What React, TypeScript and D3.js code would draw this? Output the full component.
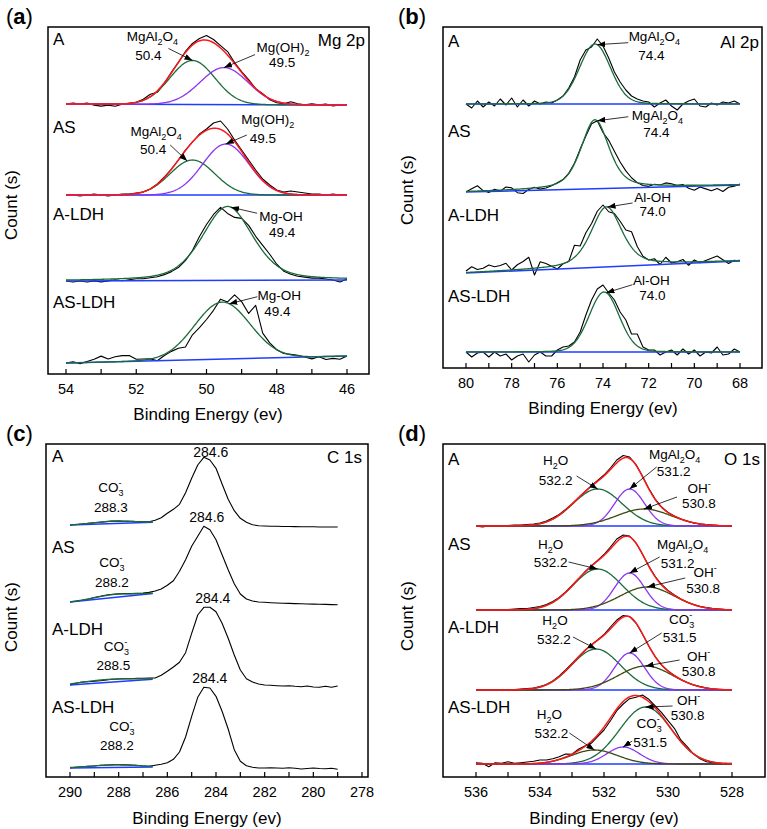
import React from 'react';
import * as d3 from 'd3';

// ---------- (a) Mg 2p ----------
const mgEnergy = d3.range(54, 45.95, -0.2);
const mgTicks = [54, 52, 50, 48, 46];
// raw counts above the linear background, one value per 0.2 eV
const mgRawA = [0, 1, 0, 1, -1, -2, -1, -2, 0, 1, 2, 5, 10, 12, 21, 32, 42, 53, 61, 66, 69, 65, 59, 53, 42, 33, 25, 16, 11, 5, 2, 1, 3, 1, 0, 1, 0, 1, -1, 0, 0];
const mgRawAS = [0, 0, -1, 0, 1, 0, -1, 0, 1, 1, 2, 3, 6, 11, 18, 26, 35, 45, 53, 61, 66, 72, 74, 66, 55, 45, 35, 25, 16, 10, 5, 3, 4, 3, 2, 1, 1, 0, 1, 0, 0];
const mgRawALDH = [0, -1, 0, -1, 0, -1, 0, 1, 0, 1, 2, 2, 3, 4, 6, 9, 13, 20, 30, 44, 56, 66, 73, 67, 63, 62, 55, 44, 35, 26, 16, 9, 6, 4, 3, 2, 2, 1, 0, -2, 1];
const mgRawASLDH = [0, 1, -1, 1, 3, 6, 3, 5, 6, 6, 2, 2, 2, 0, 5, 9, 12, 13, 25, 32, 40, 49, 60, 57, 64, 57, 45, 53, 25, 15, 8, 4, 3, 2, 0, -2, 0, -3, -2, -3, 0];
const mgOffsets = [270, 179, 93, 11];
const mgBackground = [[0, -1], [0, 0], [0, 1], [0, 7]];
// fitted components: [centre (eV), height, FWHM (eV), lorentzian fraction]
const mgFitA = [[50.4, 44, 1.5, 0], [49.5, 37, 1.6, 0]];
const mgFitAS = [[50.4, 35, 1.5, 0], [49.45, 51, 1.55, 0]];
const mgFitALDH = [[49.4, 74, 1.7, 0.4]];
const mgFitASLDH = [[49.55, 57, 1.85, 0]];

// ---------- (b) Al 2p ----------
const alEnergy = d3.range(80, 67.9, -0.25);
const alTicks = [80, 78, 76, 74, 72, 70, 68];
const alRawA = [0, -4, 3, -3, 2, -2, 5, -1, 6, -3, 4, -2, 3, 0, 2, 1, 4, 8, 16, 27, 44, 54, 57, 65, 58, 46, 32, 22, 14, 8, 5, 3, 2, -3, 1, 4, -2, -6, 0, 3, 5, -2, -3, 1, -1, 2, 1, 3, 0];
const alRawAS = [0, 3, 6, 1, -1, 2, 0, 4, 3, -2, -3, 1, 3, 1, 2, 4, 7, 10, 16, 26, 40, 53, 65, 68, 56, 48, 37, 26, 17, 10, 5, 2, 1, 3, 2, 4, 3, 1, 2, -2, -4, -1, -3, -5, -3, -6, -2, -1, 1];
const alRawALDH = [2, 6, 3, 4, 7, 5, 6, 8, 1, 6, 9, 13, -5, 8, 6, 3, 0, 5, 7, 23, 22, 35, 44, 56, 62, 55, 53, 45, 36, 34, 19, 9, 5, 6, 0, 7, 1, 2, 4, -2, 3, 0, 2, 4, 6, 2, -2, 1, 0];
const alRawASLDH = [0, -5, -1, 0, -5, 0, -4, -2, -8, -4, -2, -10, -3, 0, -4, -4, 2, 5, 6, 10, 20, 37, 52, 63, 67, 59, 52, 40, 32, 18, 18, 5, 2, 2, -3, 0, 2, -3, 3, -2, 2, -4, 0, -1, 5, -3, -2, 3, 0];
const alOffsets = [264, 176, 95, 16];
const alBackground = [[0, 0], [0, 7], [0, 12], [0, 0]];
const alFitA = [[74.35, 60, 1.6, 0.1]];
const alFitAS = [[74.35, 69, 1.45, 0.5]];
const alFitALDH = [[73.85, 60, 1.6, 0.5]];
const alFitASLDH = [[73.95, 60, 1.55, 0.1]];

// ---------- (c) C 1s ----------
const cEnergy = d3.range(290, 278.9, -0.25);
const cTicks = [290, 288, 286, 284, 282, 280, 278];
// raw counts above the stacking offset (not background corrected)
const cRawA = [0, 0.5, 1, 1.6, 2.2, 2.8, 3.4, 3.9, 4, 3.8, 3.6, 3.4, 3.2, 3.3, 4.7, 7.3, 11.7, 15.7, 20.7, 32.3, 46.7, 60, 67.7, 65, 56.7, 41, 25.7, 14.3, 6.7, 2.7, 0.3, -0.7, -1, -1.2, -1.3, -1.5, -1.5, -1.6, -1.7, -1.8, -1.8, -2, -2, -2, -2];
const cRawAS = [0, 0.7, 1.7, 3, 4.5, 5.7, 7, 7.8, 8.3, 8.4, 8.4, 8.6, 8.9, 9.6, 11, 13, 16.7, 21.3, 30.7, 42.3, 55.7, 65.7, 75.7, 72.3, 62.3, 47.3, 32.3, 18.3, 8, 3, 1, 0, -0.3, -0.7, -1, -1.2, -1.4, -1.6, -1.8, -2, -2.1, -2.3, -2.4, -2.6, -2.7];
const cRawALDH = [0, 1.7, 3, 3.3, 3.7, 4.3, 5, 5.7, 6, 6.3, 6.3, 6.7, 6.7, 7, 7, 9.7, 13.7, 18, 22.7, 32.3, 51.7, 70, 77.7, 77.7, 73.3, 61.7, 46.7, 30, 15, 6.3, 3, 1, 0, -0.3, -0.7, -1, -0.7, -1.3, -1.7, -1, -2, -2.3, -1.3, -2.3, -1];
const cRawASLDH = [0, 0.7, 1.3, 1.7, 2, 2.7, 3, 3.3, 3.3, 3.3, 3, 2.7, 2, 1.7, 2.7, 3.7, 5.3, 8.7, 16, 31, 51.7, 70.7, 80.7, 80, 71.7, 56.7, 39, 18.3, 6.7, 2.3, 0.7, 0, 0, 0.3, 0, -0.3, 0.3, -0.3, -1, -0.5, 0, -0.5, -0.7, -0.3, -1.3];
const cOffsets = [252, 175, 92, 9];
const cFitWindow = [290, 286.6];
const cBackground = [[0, 2.7], [0, 8.5], [0, 5.7], [0, 1]];
const cFitA = [[288.2, 2.5, 1.8, 0]];
const cFitAS = [[288.2, 3, 1.8, 0]];
const cFitALDH = [[288.5, 3, 2.5, 0]];
const cFitASLDH = [[288.2, 2.5, 2.4, 0]];
const cMainPeak = ['284.6', '284.6', '284.4', '284.4'];

// ---------- (d) O 1s ----------
const oEnergy = d3.range(536, 527.95, -0.2);
const oTicks = [536, 534, 532, 530, 528];
const oRawA = [0, -1, 0, 0.5, 0, 0.5, 1, 1, 1.5, 2, 3, 5, 8, 11.5, 16.5, 22, 28, 34, 40, 45.5, 51, 58, 66, 70.5, 69, 61.5, 50, 37.5, 27, 19, 13.5, 10, 7, 5, 3, 2, 1.5, 1, 0.5, 0.5, 0];
const oRawAS = [0, 0, 0.5, 0, 0.5, 0.5, 1, 1.5, 1.5, 2.5, 3.5, 5.5, 8.5, 12.5, 18, 24.5, 31, 38, 44, 49.5, 55.5, 63, 71, 75, 74, 67, 56, 44, 33.5, 25.5, 19.5, 15, 11, 8, 5.5, 3.5, 2.5, 1.5, 1, 0.5, 0];
const oRawALDH = [0, 0, 0, 0.5, 0, 0.5, 0.5, 1, 1.5, 2, 3.5, 5.5, 9, 14, 20, 26.5, 33, 39.5, 45, 50, 55.5, 63, 70, 74.5, 73.5, 67, 56, 44, 33.5, 25, 19, 14.5, 10.5, 7.5, 5, 3.5, 2, 1, 0.5, 0.5, 0];
const oRawASLDH = [1.3, 0.7, -2.7, 1.3, 0.7, 2.3, 0.7, 1.3, 2, 2.7, 4, 4, 5.3, 7.3, 10, 9.7, 14.7, 18, 20.7, 27.3, 34, 43.3, 53.3, 60, 65.3, 66.7, 69, 64.7, 58, 51.3, 43.3, 35.7, 24, 17.3, 10, 5.3, 2.3, 1.3, 0, 0.7, 0.7];
const oOffsets = [251, 167, 87, 13];
const oBackground = [[0, 0], [0, 0], [0, 0], [0, 0]];
const oFitA = [[532.2, 37, 1.8, 0], [531.2, 37, 1.1, 0], [530.75, 17, 2.0, 0]];
const oFitAS = [[532.2, 41, 1.8, 0], [531.2, 37, 1.1, 0], [530.65, 23, 2.0, 0]];
const oFitALDH = [[532.25, 41, 1.8, 0], [531.2, 37, 1.1, 0], [530.7, 24, 2.0, 0]];
const oFitASLDH = [[530.7, 57, 1.9, 0], [531.4, 17, 1.2, 0], [532.3, 14, 1.7, 0]];

const sampleNames = ['A', 'AS', 'A-LDH', 'AS-LDH'];

const GREEN = '#1c6b3b';
const PURPLE = '#8c34f2';
const OLIVE = '#3c4a12';
const BLUE = '#1f3dff';
const RED = '#ff1616';
const FONT = '"Liberation Sans", Arial, Helvetica, sans-serif';

type Note = {
  s: number; k: number; at?: number;
  tail: number[] | null; name: string; nameAt: number[]; value: string; valueAt: number[];
};

type Panel = {
  letter: string; element: string;
  frame: { x0: number; x1: number; y0: number; y1: number };
  range: number[]; energy: number[]; ticks: number[];
  raws: number[][]; offsets: number[]; bgs: number[][]; fits: number[][][]; colors: string[][];
  window?: number[]; rawAbsolute?: boolean;
  lifts: number[]; nameX: number; elementX: number; elementY: number;
  titleX: number; titleY: number; countX: number; countY: number; letterX: number; letterY: number;
  notes: Note[]; tags?: { text: string; dx: number; dy: number }[];
};

const pv = (f: number[], e: number) => {
  const t = (e - f[0]) / f[2];
  const eta = f[3];
  return f[1] * ((1 - eta) * Math.exp(-4 * Math.LN2 * t * t) + eta / (1 + 4 * t * t));
};

// chemical label with _sub and ^sup (a sup right after a sub is stacked over it)
function chem(s: string) {
  const out: React.ReactNode[] = [];
  let level = 0;
  let prevSub = false;
  let i = 0;
  let key = 0;
  while (i < s.length) {
    const c = s[i];
    if (c === '_' || c === '^') {
      const target = c === '_' ? 4 : -6;
      const dx = c === '^' && prevSub ? -5 : 0;
      out.push(<tspan key={key++} dx={dx} dy={target - level} fontSize={9}>{s[i + 1]}</tspan>);
      level = target;
      prevSub = c === '_';
      i += 2;
    } else {
      let j = i;
      while (j < s.length && s[j] !== '_' && s[j] !== '^') j++;
      out.push(<tspan key={key++} dy={-level}>{s.slice(i, j)}</tspan>);
      level = 0;
      prevSub = false;
      i = j;
    }
  }
  return out;
}

const panels: Panel[] = [
  {
    letter: 'a', element: 'Mg 2p',
    frame: { x0: 48, x1: 369, y0: 27, y1: 374 },
    range: [66, 347], energy: mgEnergy, ticks: mgTicks,
    raws: [mgRawA, mgRawAS, mgRawALDH, mgRawASLDH], offsets: mgOffsets, bgs: mgBackground,
    fits: [mgFitA, mgFitAS, mgFitALDH, mgFitASLDH],
    colors: [[GREEN, PURPLE], [GREEN, PURPLE], [GREEN], [GREEN]],
    lifts: [59, 62, 61, 55], nameX: 53, elementX: 365, elementY: 46,
    titleX: 208, titleY: 420, countX: 17, countY: 205, letterX: 6, letterY: 24,
    notes: [
      { s: 0, k: 0, tail: [-24, -12], name: 'MgAl_2O_4', nameAt: [-40, -19], value: '50.4', valueAt: [-44, 0] },
      { s: 0, k: 1, tail: [31, -13], name: 'Mg(OH)_2', nameAt: [59, -16], value: '49.5', valueAt: [58, -1] },
      { s: 1, k: 0, at: 50.55, tail: [-17, -16], name: 'MgAl_2O_4', nameAt: [-31, -25], value: '50.4', valueAt: [-34, -7] },
      { s: 1, k: 1, tail: [21, -9], name: 'Mg(OH)_2', nameAt: [42, -20], value: '49.5', valueAt: [37, -1] },
      { s: 2, k: 0, at: 49.3, tail: [26, 6], name: 'Mg-OH', nameAt: [50, 14], value: '49.4', valueAt: [51, 30] },
      { s: 3, k: 0, at: 49.35, tail: [28, -7], name: 'Mg-OH', nameAt: [50, -4], value: '49.4', valueAt: [48, 12] },
    ],
  },
  {
    letter: 'b', element: 'Al 2p',
    frame: { x0: 443, x1: 762, y0: 27, y1: 368 },
    range: [466, 740], energy: alEnergy, ticks: alTicks,
    raws: [alRawA, alRawAS, alRawALDH, alRawASLDH], offsets: alOffsets, bgs: alBackground,
    fits: [alFitA, alFitAS, alFitALDH, alFitASLDH],
    colors: [[GREEN], [GREEN], [GREEN], [GREEN]],
    lifts: [57, 55, 52, 50], nameX: 448, elementX: 759, elementY: 48,
    titleX: 603, titleY: 414, countX: 413, countY: 190, letterX: 398, letterY: 24,
    notes: [
      { s: 0, k: 0, at: 74.25, tail: [31, -2], name: 'MgAl_2O_4', nameAt: [57, -4], value: '74.4', valueAt: [54, 15] },
      { s: 1, k: 0, at: 74.25, tail: [31, -4], name: 'MgAl_2O_4', nameAt: [60, -1], value: '74.4', valueAt: [59, 16] },
      { s: 2, k: 0, at: 73.8, tail: [25, -4], name: 'Al-OH', nameAt: [45, -5], value: '74.0', valueAt: [45, 9] },
      { s: 3, k: 0, at: 73.85, tail: [26, -8], name: 'Al-OH', nameAt: [45, -8], value: '74.0', valueAt: [46, 7] },
    ],
  },
  {
    letter: 'c', element: 'C 1s',
    frame: { x0: 46, x1: 368, y0: 444, y1: 777 },
    range: [70, 362], energy: cEnergy, ticks: cTicks,
    raws: [cRawA, cRawAS, cRawALDH, cRawASLDH], offsets: cOffsets, bgs: cBackground,
    fits: [cFitA, cFitAS, cFitALDH, cFitASLDH],
    colors: [[GREEN], [GREEN], [GREEN], [GREEN]],
    window: cFitWindow, rawAbsolute: true,
    lifts: [63, 49, 50, 55], nameX: 52, elementX: 362, elementY: 463,
    titleX: 207, titleY: 824, countX: 17, countY: 617, letterX: 6, letterY: 441,
    notes: [
      { s: 0, k: 0, tail: null, name: 'CO_3^-', nameAt: [-3, -29], value: '288.3', valueAt: [-3, -9] },
      { s: 1, k: 0, tail: null, name: 'CO_3^-', nameAt: [-2, -28], value: '288.2', valueAt: [-2, -8] },
      { s: 2, k: 0, tail: null, name: 'CO_3^-', nameAt: [10, -28], value: '288.5', valueAt: [7, -9] },
      { s: 3, k: 0, tail: null, name: 'CO_3^-', nameAt: [8, -34], value: '288.2', valueAt: [3, -15] },
    ],
    tags: [
      { text: cMainPeak[0], dx: 7, dy: 0 },
      { text: cMainPeak[1], dx: 3, dy: -4 },
      { text: cMainPeak[2], dx: 9, dy: -4 },
      { text: cMainPeak[3], dx: 6, dy: -4 },
    ],
  },
  {
    letter: 'd', element: 'O 1s',
    frame: { x0: 443, x1: 765, y0: 444, y1: 777 },
    range: [476, 732], energy: oEnergy, ticks: oTicks,
    raws: [oRawA, oRawAS, oRawALDH, oRawASLDH], offsets: oOffsets, bgs: oBackground,
    fits: [oFitA, oFitAS, oFitALDH, oFitASLDH],
    colors: [[GREEN, PURPLE, OLIVE], [GREEN, PURPLE, OLIVE], [GREEN, PURPLE, OLIVE], [GREEN, PURPLE, OLIVE]],
    lifts: [61, 60, 57, 51], nameX: 448, elementX: 760, elementY: 465,
    titleX: 604, titleY: 824, countX: 413, countY: 616, letterX: 398, letterY: 441,
    notes: [
      { s: 0, k: 0, tail: [-21, -13], name: 'H_2O', nameAt: [-42, -24], value: '532.2', valueAt: [-42, -4] },
      { s: 0, k: 1, tail: [27, -22], name: 'MgAl_2O_4', nameAt: [45, -30], value: '531.2', valueAt: [44, -13] },
      { s: 0, k: 2, tail: [33, -12], name: 'OH^-', nameAt: [55, -16], value: '530.8', valueAt: [55, -1] },
      { s: 1, k: 0, tail: [-29, -7], name: 'H_2O', nameAt: [-47, -20], value: '532.2', valueAt: [-47, -2] },
      { s: 1, k: 1, tail: [30, -16], name: 'MgAl_2O_4', nameAt: [53, -24], value: '531.2', valueAt: [48, -5] },
      { s: 1, k: 2, tail: [38, -9], name: 'OH^-', nameAt: [58, -10], value: '530.8', valueAt: [56, 6] },
      { s: 2, k: 0, tail: [-23, -12], name: 'H_2O', nameAt: [-41, -24], value: '532.2', valueAt: [-42, -5] },
      { s: 2, k: 1, tail: [32, -20], name: 'CO_3^-', nameAt: [52, -29], value: '531.5', valueAt: [50, -11] },
      { s: 2, k: 2, tail: [34, -6], name: 'OH^-', nameAt: [53, -5], value: '530.8', valueAt: [53, 10] },
      { s: 3, k: 0, tail: [27, -1], name: 'OH^-', nameAt: [43, -2], value: '530.8', valueAt: [42, 13] },
      { s: 3, k: 2, tail: [-25, -17], name: 'H_2O', nameAt: [-45, -31], value: '532.2', valueAt: [-43, -12] },
      { s: 3, k: 1, tail: [9, -6], name: 'CO_3^-', nameAt: [26, -19], value: '531.5', valueAt: [27, 0] },
    ],
  },
];

function PanelView({ p }: { p: Panel }) {
  const { frame } = p;
  const domain = [p.ticks[0], p.ticks[p.ticks.length - 1]];
  const x = d3.scaleLinear().domain(domain).range(p.range);
  const y = d3.scaleLinear().domain([0, frame.y1 - frame.y0]).range([frame.y1, frame.y0]);
  const eStart = p.energy[0];
  const eEnd = p.energy[p.energy.length - 1];
  const fitLo = p.window ? p.window[0] : eStart;
  const fitHi = p.window ? p.window[1] : eEnd;
  const fitE = d3.range(0, 301).map((i) => fitLo + ((fitHi - fitLo) * i) / 300);
  const line = d3.line<number[]>().x((d) => x(d[0])).y((d) => y(d[1]));
  const bgAt = (s: number, e: number) => {
    const b = p.bgs[s];
    return b[0] + ((b[1] - b[0]) * (e - fitLo)) / (fitHi - fitLo);
  };
  const minor = d3.range(domain[0], domain[1] - 0.01, -1);
  const tip = (n: Note) => {
    const f = p.fits[n.s][n.k];
    const e = n.at ?? f[0];
    return [x(e), y(p.offsets[n.s] + bgAt(n.s, e) + pv(f, e))];
  };

  return (
    <g>
      <text x={p.letterX} y={p.letterY} fontFamily={FONT} fontSize={22}>
        <tspan>(</tspan>
        <tspan fontWeight={700}>{p.letter}</tspan>
        <tspan>)</tspan>
      </text>

      {p.raws.map((raw, s) => {
        const off = p.offsets[s];
        const rawPts = raw.map((v, i) => [p.energy[i], p.rawAbsolute ? off + v : off + bgAt(s, p.energy[i]) + v]);
        const bgPts = [[fitLo, off + bgAt(s, fitLo)], [fitHi, off + bgAt(s, fitHi)]];
        const fits = p.fits[s];
        return (
          <g key={s}>
            <path d={line(rawPts) || ''} fill="none" stroke="#000" strokeWidth={1.1} strokeLinejoin="round" />
            <path d={line(bgPts) || ''} fill="none" stroke={BLUE} strokeWidth={1.5} />
            {fits.map((f, k) => (
              <path key={k}
                d={line(fitE.map((e) => [e, off + bgAt(s, e) + pv(f, e)])) || ''}
                fill="none" stroke={p.colors[s][k]} strokeWidth={1.3} />
            ))}
            {fits.length > 1 && (
              <path
                d={line(fitE.map((e) => [e, off + bgAt(s, e) + d3.sum(fits, (f) => pv(f, e))])) || ''}
                fill="none" stroke={RED} strokeWidth={1.5} />
            )}
            <text x={p.nameX} y={y(off) - p.lifts[s]} fontSize={17} fontFamily={FONT}>{sampleNames[s]}</text>
          </g>
        );
      })}

      {p.tags && p.tags.map((t, s) => {
        const raw = p.raws[s];
        const i = d3.maxIndex(raw);
        const px = x(p.energy[i]);
        const py = y(p.offsets[s] + raw[i]);
        return (
          <text key={s} x={px + t.dx} y={py + t.dy} fontSize={14} fontFamily={FONT} textAnchor="middle">{t.text}</text>
        );
      })}

      {p.notes.map((n, i) => {
        const [tx, ty] = tip(n);
        return (
          <g key={i} fontFamily={FONT} fontSize={13.5} textAnchor="middle">
            {n.tail && (
              <line x1={tx + n.tail[0]} y1={ty + n.tail[1]} x2={tx} y2={ty}
                stroke="#000" strokeWidth={0.8} markerEnd="url(#arrow)" />
            )}
            <text x={tx + n.nameAt[0]} y={ty + n.nameAt[1]}>{chem(n.name)}</text>
            <text x={tx + n.valueAt[0]} y={ty + n.valueAt[1]}>{n.value}</text>
          </g>
        );
      })}

      <text x={p.elementX} y={p.elementY} fontSize={17} fontFamily={FONT} textAnchor="end">{p.element}</text>

      <rect x={frame.x0} y={frame.y0} width={frame.x1 - frame.x0} height={frame.y1 - frame.y0}
        fill="none" stroke="#000" strokeWidth={1.5} />
      {minor.map((t) => (
        <line key={t} x1={x(t)} x2={x(t)} y1={frame.y1} y2={frame.y1 - 5} stroke="#000" strokeWidth={1.2} />
      ))}
      {p.ticks.map((t) => (
        <text key={t} x={x(t)} y={frame.y1 + 20} fontSize={14.5} fontFamily={FONT} textAnchor="middle">{t}</text>
      ))}
      <text x={p.titleX} y={p.titleY} fontSize={17} fontFamily={FONT} textAnchor="middle">Binding Energy (ev)</text>
      <text transform={`translate(${p.countX},${p.countY}) rotate(-90)`} fontSize={17} fontFamily={FONT} textAnchor="middle">Count (s)</text>
    </g>
  );
}

export default function App() {
  return (
    <svg width={767} height={829} viewBox="0 0 767 829"
      style={{ position: 'absolute', left: 0, top: 0, background: '#fff', display: 'block' }}>
      <defs>
        <marker id="arrow" viewBox="0 0 8 6" refX={8} refY={3} markerWidth={8} markerHeight={6}
          orient="auto" markerUnits="userSpaceOnUse">
          <path d="M0,0 L8,3 L0,6 z" fill="#000" />
        </marker>
      </defs>
      <rect width={767} height={829} fill="#fff" />
      {panels.map((p) => <PanelView key={p.letter} p={p} />)}
    </svg>
  );
}
